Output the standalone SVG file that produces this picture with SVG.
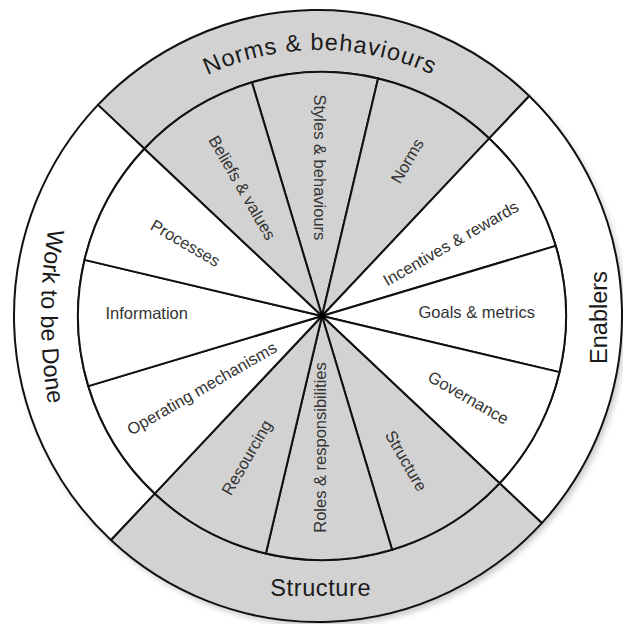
<svg xmlns="http://www.w3.org/2000/svg" width="623" height="624" viewBox="0 0 623 624">
<style>
.g{fill:#d2d2d2}
.w{fill:#ffffff}
.seg{stroke:#111;stroke-width:2;stroke-linejoin:round}
.lbl{font-family:"Liberation Sans",Arial,sans-serif;font-size:16.5px;fill:#333;text-anchor:middle}
.big{font-family:"Liberation Sans",Arial,sans-serif;font-size:23.5px;fill:#1a1a1a;text-anchor:middle}
</style>
<defs>
<filter id="sh" x="-10%" y="-10%" width="120%" height="120%"><feGaussianBlur stdDeviation="3"/></filter>
<path id="arcTop" d="M54,316 A266,266 0 0 1 586,316"/>
<path id="arcLeft" d="M73,135.2 A530,530 0 0 0 73,497.8"/>
</defs>
<rect width="623" height="624" fill="#fff"/>
<ellipse cx="321" cy="320" rx="304" ry="306" fill="#000" opacity="0.22" filter="url(#sh)"/>

<g id="ring-norms">
<path class="g seg" d="M97.95,104.88 A304,306 0 0 1 529.3,96 L489.3,138.4 A244,244 0 0 0 144.4,148.7 Z"/>
<text class="big" letter-spacing="1.1"><textPath href="#arcTop" startOffset="50%">Norms &amp; behaviours</textPath></text>
</g>
<g id="ring-enablers">
<path class="w seg" d="M529.3,96 A304,306 0 0 1 541.8,523.1 L499.6,483.3 A244,244 0 0 0 489.3,138.4 Z"/>
<text class="big" transform="translate(607,317.5) rotate(-90)">Enablers</text>
</g>
<g id="ring-structure">
<path class="g seg" d="M541.8,523.1 A304,306 0 0 1 110.9,540 L154.7,493.6 A244,244 0 0 0 499.6,483.3 Z"/>
<text class="big" x="320.7" y="596" letter-spacing="0.6">Structure</text>
</g>
<g id="ring-work">
<path class="w seg" d="M110.9,540 A304,306 0 0 1 97.95,104.88 L144.4,148.7 A244,244 0 0 0 154.7,493.6 Z"/>
<text class="big"><textPath href="#arcLeft" startOffset="50%">Work to be Done</textPath></text>
</g>

<g id="styles-behaviours">
<path class="g seg" d="M322,316 L251.9,82.3 A244,244 0 0 1 378.1,78.5 Z"/>
<text class="lbl" transform="translate(320,167.4) rotate(90)" dy="0.35em">Styles &amp; behaviours</text>
</g>
<g id="norms">
<path class="g seg" d="M322,316 L378.1,78.5 A244,244 0 0 1 489.3,138.4 Z"/>
<text class="lbl" transform="translate(407.2,160.9) rotate(-60)" dy="0.35em">Norms</text>
</g>
<g id="incentives-rewards">
<path class="w seg" d="M322,316 L489.3,138.4 A244,244 0 0 1 555.7,245.9 Z"/>
<text class="lbl" transform="translate(450.8,243.3) rotate(-30)" dy="0.35em">Incentives &amp; rewards</text>
</g>
<g id="goals-metrics">
<path class="w seg" d="M322,316 L555.7,245.9 A244,244 0 0 1 559.5,372.1 Z"/>
<text class="lbl" transform="translate(476.7,312.3)" dy="0.35em">Goals &amp; metrics</text>
</g>
<g id="governance">
<path class="w seg" d="M322,316 L559.5,372.1 A244,244 0 0 1 499.6,483.3 Z"/>
<text class="lbl" transform="translate(468.4,397.7) rotate(30)" dy="0.35em">Governance</text>
</g>
<g id="structure">
<path class="g seg" d="M322,316 L499.6,483.3 A244,244 0 0 1 392.1,549.7 Z"/>
<text class="lbl" transform="translate(406.2,460.9) rotate(60)" dy="0.35em">Structure</text>
</g>
<g id="roles-responsibilities">
<path class="g seg" d="M322,316 L392.1,549.7 A244,244 0 0 1 265.9,553.5 Z"/>
<text class="lbl" transform="translate(320,447.5) rotate(-90)" dy="0.35em">Roles &amp; responsibilities</text>
</g>
<g id="resourcing">
<path class="g seg" d="M322,316 L265.9,553.5 A244,244 0 0 1 154.7,493.6 Z"/>
<text class="lbl" transform="translate(246.7,457.5) rotate(-60)" dy="0.35em">Resourcing</text>
</g>
<g id="operating-mechanisms">
<path class="w seg" d="M322,316 L154.7,493.6 A244,244 0 0 1 88.3,386.1 Z"/>
<text class="lbl" transform="translate(201.7,388.3) rotate(-30)" dy="0.35em">Operating mechanisms</text>
</g>
<g id="information">
<path class="w seg" d="M322,316 L88.3,386.1 A244,244 0 0 1 84.5,259.9 Z"/>
<text class="lbl" transform="translate(146.7,313.3)" dy="0.35em">Information</text>
</g>
<g id="processes">
<path class="w seg" d="M322,316 L84.5,259.9 A244,244 0 0 1 144.4,148.7 Z"/>
<text class="lbl" transform="translate(185.4,243) rotate(30)" dy="0.35em">Processes</text>
</g>
<g id="beliefs-values">
<path class="g seg" d="M322,316 L144.4,148.7 A244,244 0 0 1 251.9,82.3 Z"/>
<text class="lbl" transform="translate(242.3,187.7) rotate(60)" dy="0.35em">Beliefs &amp; values</text>
</g>

<g id="connectors">
<circle cx="322" cy="316" r="3" fill="#000"/>
</g>
</svg>
